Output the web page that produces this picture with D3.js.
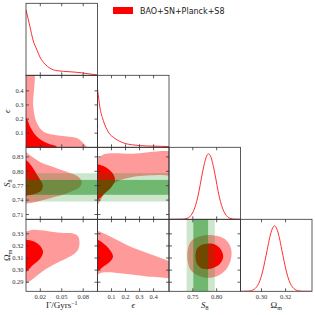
<!DOCTYPE html>
<html>
<head>
<meta charset="utf-8">
<script src="https://cdnjs.cloudflare.com/ajax/libs/d3/7.8.5/d3.min.js"></script>
<style>
    body{margin:0;background:#fff;}
    svg{display:block;}
    .tick-label{font-family:"Liberation Serif",serif;font-size:6.5px;fill:#333;}
    .axis-label{font-family:"Liberation Serif",serif;font-size:9px;fill:#222;}
    .legend{font-family:"DejaVu Sans",sans-serif;font-size:8px;fill:#222;}
</style>
</head>
<body>
<script>
// axis ranges
const gammaRange = [0, 0.10];
const epsRange = [0, 0.51];
const s8Range = [0.70, 0.85];
const omRange = [0.2825, 0.342];

// tick values
const gammaTicks = [0.02, 0.05, 0.08];
const epsTicks = [0.1, 0.2, 0.3, 0.4];
const s8TicksX = [0.75, 0.80];
const s8TicksY = [0.71, 0.74, 0.77, 0.80, 0.83];
const omTicksX = [0.30, 0.32];
const omTicksY = [0.29, 0.30, 0.31, 0.32, 0.33];

// 1D marginals [value, relative density]
const gamma1D = [[0,1.0],[0.0056,0.74],[0.0098,0.54],[0.0154,0.385],[0.0196,0.277],[0.0266,0.17],
    [0.0336,0.108],[0.0434,0.07],[0.0615,0.054],[0.078,0.038],[0.0895,0.02],[0.10,0.005]];
const eps1D = [[0,0.896],[0.0168,0.615],[0.041,0.412],[0.077,0.234],[0.126,0.133],[0.187,0.066],
    [0.26,0.035],[0.358,0.02],[0.455,0.015],[0.51,0.01]];
const s81D = [[0.70,0],[0.728,0.002],[0.738,0.015],[0.743,0.036],[0.748,0.08],[0.753,0.155],[0.758,0.27],
    [0.763,0.43],[0.768,0.63],[0.773,0.81],[0.778,0.95],[0.783,1.0],[0.788,0.95],[0.793,0.81],[0.798,0.63],
    [0.803,0.43],[0.808,0.27],[0.813,0.155],[0.818,0.08],[0.823,0.036],[0.828,0.015],[0.838,0.002],[0.85,0]];
const om1D = [[0.2825,0],[0.289,0.003],[0.2908,0.008],[0.2928,0.019],[0.2948,0.044],[0.2968,0.09],[0.2988,0.17],
    [0.3008,0.295],[0.3028,0.46],[0.3048,0.64],[0.3068,0.82],[0.3088,0.95],[0.3108,1.0],[0.3128,0.95],
    [0.3148,0.82],[0.3168,0.64],[0.3188,0.46],[0.3208,0.295],[0.3228,0.17],[0.3248,0.09],[0.3268,0.044],
    [0.3288,0.019],[0.3308,0.008],[0.333,0.002],[0.342,0]];

// 2D contour outlines [x-param, y-param] (95% outer, 68% inner)
const epsGamma95 = [[0.0095,0.56],[0.0102,0.287],[0.015,0.174],[0.0242,0.112],[0.0382,0.0885],[0.057,0.0765],
    [0.0709,0.065],[0.080,0.03],[0.086,-0.005],[0.088,-0.03],[-0.01,-0.03],[-0.01,0.56]];
const epsGamma68 = [[-0.01,0.215],[0,0.209],[0.0056,0.147],[0.015,0.0765],[0.029,0.03],[0.043,0.0035],
    [0.046,-0.03],[-0.01,-0.03]];
const s8Gamma95 = [[-0.01,0.845],[0,0.8397],[0.0056,0.8334],[0.0196,0.8196],[0.0382,0.8092],[0.057,0.7989],
    [0.0731,0.7886],[0.0779,0.7782],[0.0755,0.7679],[0.057,0.7542],[0.0336,0.7439],[0.015,0.7368],
    [0.0032,0.7335],[-0.01,0.733]];
const s8Gamma68 = [[-0.01,0.824],[0,0.823],[0.008,0.8107],[0.0172,0.7886],[0.0234,0.7714],[0.022,0.761],
    [0.015,0.7542],[0.0056,0.7507],[-0.01,0.7505]];
const s8Eps95 = [[-0.02,0.728],[0,0.73],[0.029,0.7439],[0.065,0.761],[0.1374,0.7782],[0.2575,0.7886],
    [0.4507,0.7921],[0.56,0.7931],[0.56,0.8366],[0.25,0.8366],[0.0456,0.8355],[0.0058,0.8272],[-0.02,0.826]];
const s8Eps68 = [[-0.02,0.815],[0,0.8148],[0.065,0.8076],[0.107,0.7962],[0.125,0.7817],[0.101,0.7679],
    [0.0528,0.7542],[0.0166,0.7439],[0,0.7403],[-0.02,0.74]];
const omGamma95 = [[-0.01,0.332],[0,0.3319],[0.0102,0.3333],[0.029,0.3323],[0.0476,0.3308],[0.0643,0.3304],
    [0.0727,0.328],[0.0748,0.3226],[0.0727,0.3168],[0.0657,0.3127],[0.0569,0.3099],[0.0382,0.3044],
    [0.0196,0.2975],[0.008,0.292],[0.001,0.2893],[-0.01,0.2885]];
const omGamma68 = [[-0.01,0.3252],[0,0.3251],[0.0102,0.3238],[0.0189,0.3205],[0.0238,0.3154],[0.0203,0.3098],
    [0.0102,0.3044],[0.0032,0.3003],[0,0.2986],[-0.01,0.2985]];
const omEps95 = [[-0.02,0.333],[0,0.3325],[0.065,0.3292],[0.161,0.3237],[0.2575,0.3182],[0.3545,0.3141],
    [0.4507,0.31],[0.508,0.3077],[0.56,0.306],[0.56,0.2915],[0.508,0.2932],[0.3545,0.2947],[0.2575,0.2961],
    [0.161,0.2974],[0.065,0.2982],[0.0166,0.2975],[0,0.2961],[-0.02,0.2958]];
const omEps68 = [[-0.02,0.3252],[0,0.3251],[0.0405,0.3223],[0.0818,0.3176],[0.1107,0.3113],[0.089,0.3069],
    [0.0405,0.3028],[0,0.2994],[-0.02,0.2993]];
const omS895 = [[0.7472,0.3242],[0.7661,0.328],[0.7913,0.3288],[0.8164,0.3259],[0.829,0.3193],[0.8311,0.3118],
    [0.8248,0.3036],[0.8101,0.297],[0.7871,0.2937],[0.7619,0.2953],[0.7451,0.3003],[0.7388,0.3085],[0.7399,0.3176]];
const omS868 = [[0.7556,0.3118],[0.7598,0.3184],[0.7745,0.3215],[0.7913,0.3217],[0.806,0.3184],[0.8137,0.3114],
    [0.807,0.3052],[0.7871,0.3011],[0.7682,0.3015],[0.7587,0.3052]];

// S8 prior band (2 sigma, 1 sigma)
const s8Band95 = [0.737, 0.796];
const s8Band68 = [0.751, 0.782];

const legendLabel = 'BAO+SN+Planck+S8';

const params = [
    {range: gammaRange, xt: gammaTicks, yt: gammaTicks, fmt: d3.format('.2f'), d1: gamma1D},
    {range: epsRange, xt: epsTicks, yt: epsTicks, fmt: d3.format('.1f'), d1: eps1D},
    {range: s8Range, xt: s8TicksX, yt: s8TicksY, fmt: d3.format('.2f'), d1: s81D},
    {range: omRange, xt: omTicksX, yt: omTicksY, fmt: d3.format('.2f'), d1: om1D}
];
const contours = [
    {row: 1, col: 0, c95: epsGamma95, c68: epsGamma68},
    {row: 2, col: 0, c95: s8Gamma95, c68: s8Gamma68},
    {row: 2, col: 1, c95: s8Eps95, c68: s8Eps68},
    {row: 3, col: 0, c95: omGamma95, c68: omGamma68},
    {row: 3, col: 1, c95: omEps95, c68: omEps68},
    {row: 3, col: 2, c95: omS895, c68: omS868}
];

const W = 315, H = 315;
const mLeft = 26, mTop = 3.3, pw = 71.5, ph = 72;
const svg = d3.select('body').append('svg').attr('width', W).attr('height', H);
const defs = svg.append('defs');

const xs = params.map((p, j) => d3.scaleLinear().domain(p.range).range([mLeft + j * pw, mLeft + (j + 1) * pw]));
const ys = params.map((p, i) => d3.scaleLinear().domain(p.range).range([mTop + (i + 1) * ph, mTop + i * ph]));

function clipFor(i, j) {
    const id = 'clip' + i + j;
    defs.append('clipPath').attr('id', id).append('rect')
        .attr('x', mLeft + j * pw).attr('y', mTop + i * ph).attr('width', pw).attr('height', ph);
    return 'url(#' + id + ')';
}

const light = '#ff9a9a', dark = '#ff0000';

// 2D panels
contours.forEach(c => {
    const x = xs[c.col], y = ys[c.row];
    const g = svg.append('g').attr('clip-path', clipFor(c.row, c.col));
    const line = d3.line().x(d => x(d[0])).y(d => y(d[1])).curve(d3.curveCatmullRomClosed.alpha(0.5));
    g.append('path').attr('d', line(c.c95)).attr('fill', light);
    g.append('path').attr('d', line(c.c68)).attr('fill', dark);

    // S8 band on top
    [[s8Band95, 0.2], [s8Band68, 0.45]].forEach(([b, a]) => {
        if (c.row === 2) {
            g.append('rect').attr('x', x.range()[0]).attr('width', pw)
                .attr('y', y(b[1])).attr('height', y(b[0]) - y(b[1]))
                .attr('fill', 'green').attr('fill-opacity', a);
        } else if (c.col === 2) {
            g.append('rect').attr('y', y.range()[1]).attr('height', ph)
                .attr('x', x(b[0])).attr('width', x(b[1]) - x(b[0]))
                .attr('fill', 'green').attr('fill-opacity', a);
        }
    });
});

// 1D panels
params.forEach((p, i) => {
    const x = xs[i];
    const y = d3.scaleLinear().domain([0, 1.1]).range([mTop + (i + 1) * ph, mTop + i * ph]);
    const line = d3.line().x(d => x(d[0])).y(d => y(d[1])).curve(d3.curveMonotoneX);
    svg.append('g').attr('clip-path', clipFor(i, i))
        .append('path').attr('d', line(p.d1))
        .attr('fill', 'none').attr('stroke', '#ff3030').attr('stroke-width', 1);
});

// frames and ticks
const tl = 3;
for (let i = 0; i < 4; i++) {
    for (let j = 0; j <= i; j++) {
        const x = xs[j], y = ys[i];
        const x0 = mLeft + j * pw, y0 = mTop + i * ph;
        const g = svg.append('g').attr('stroke', '#333').attr('stroke-width', 0.8);
        params[j].xt.forEach(v => {
            g.append('line').attr('x1', x(v)).attr('x2', x(v)).attr('y1', y0 + ph).attr('y2', y0 + ph - tl);
            g.append('line').attr('x1', x(v)).attr('x2', x(v)).attr('y1', y0).attr('y2', y0 + tl);
        });
        if (i !== j) {
            params[i].yt.forEach(v => {
                g.append('line').attr('y1', y(v)).attr('y2', y(v)).attr('x1', x0).attr('x2', x0 + tl);
                g.append('line').attr('y1', y(v)).attr('y2', y(v)).attr('x1', x0 + pw).attr('x2', x0 + pw - tl);
            });
        }
        g.append('rect').attr('x', x0).attr('y', y0).attr('width', pw).attr('height', ph).attr('fill', 'none');
    }
}

// tick labels
params.forEach((p, j) => {
    svg.selectAll(null).data(p.xt).enter().append('text').attr('class', 'tick-label')
        .attr('x', d => xs[j](d)).attr('y', mTop + 4 * ph + 7.5).attr('text-anchor', 'middle')
        .text(p.fmt);
});
params.slice(1).forEach((p, k) => {
    const i = k + 1;
    svg.selectAll(null).data(p.yt).enter().append('text').attr('class', 'tick-label')
        .attr('x', mLeft - 2.5).attr('y', d => ys[i](d)).attr('dy', '0.35em').attr('text-anchor', 'end')
        .text(p.fmt);
});

// axis labels
const xLabY = 307.5;
function addGamma(t) {
    t.append('tspan').text('Γ/Gyrs');
    t.append('tspan').attr('dy', -3).attr('font-size', 6).text('−1');
}
function addEps(t) { t.append('tspan').attr('font-style', 'italic').text('ϵ'); }
function addS8(t) {
    t.append('tspan').attr('font-style', 'italic').text('S');
    t.append('tspan').attr('dy', 2).attr('font-size', 6).text('8');
}
function addOm(t) {
    t.append('tspan').text('Ω');
    t.append('tspan').attr('dy', 2).attr('font-size', 6).text('m');
}
const labelFns = [addGamma, addEps, addS8, addOm];
labelFns.forEach((f, j) => {
    const t = svg.append('text').attr('class', 'axis-label').attr('text-anchor', 'middle')
        .attr('x', mLeft + (j + 0.5) * pw).attr('y', xLabY);
    f(t);
});
labelFns.slice(1).forEach((f, k) => {
    const i = k + 1;
    const cy = mTop + (i + 0.5) * ph;
    const t = svg.append('text').attr('class', 'axis-label').attr('text-anchor', 'middle')
        .attr('transform', 'translate(10,' + cy + ') rotate(-90)');
    f(t);
});

// legend
svg.append('rect').attr('x', 113).attr('y', 7).attr('width', 20).attr('height', 7).attr('fill', 'red');
svg.append('text').attr('class', 'legend').attr('x', 140).attr('y', 14).text(legendLabel);
</script>
</body>
</html>
